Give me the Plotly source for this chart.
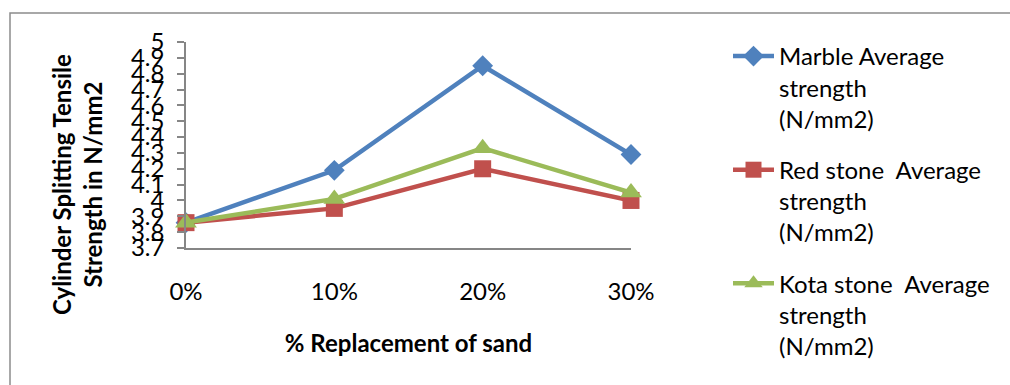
import plotly.graph_objects as go

# Splitting tensile strength vs. sand replacement level
replacement = ["0%", "10%", "20%", "30%"]
marble = [3.86, 4.19, 4.85, 4.29]
red_stone = [3.86, 3.95, 4.20, 4.00]
kota_stone = [3.86, 4.01, 4.33, 4.05]

series_names = [
    "Marble Average<br>strength<br>(N/mm2)",
    "Red stone  Average<br>strength<br>(N/mm2)",
    "Kota stone  Average<br>strength<br>(N/mm2)",
]
y_ticks = [3.7, 3.8, 3.9, 4.0, 4.1, 4.2, 4.3, 4.4, 4.5, 4.6, 4.7, 4.8, 4.9, 5.0]
y_tick_text = ["3.7", "3.8", "3.9", "4", "4.1", "4.2", "4.3", "4.4", "4.5",
               "4.6", "4.7", "4.8", "4.9", "5"]

FONT = "Lato, Carlito, Calibri, sans-serif"
W, H = 1010, 385
L, R, T, B = 186, 379, 42, 137
pw, ph = W - L - R, H - T - B


def px_x(p):
    return (p - L) / pw


def px_y(p):
    return (H - B - p) / ph


fig = go.Figure()
styles = [
    (marble, "#4F81BD", "diamond", 16),
    (red_stone, "#C0504D", "square", 17),
    (kota_stone, "#9BBB59", "triangle-up", 19),
]
for i, ((vals, color, sym, size), name) in enumerate(zip(styles, series_names)):
    fig.add_trace(go.Scatter(
        x=replacement, y=vals, name=name, mode="lines+markers",
        legendgroup=f"s{i}",
        line=dict(color=color, width=4.5),
        marker=dict(symbol=sym, size=size, color=color),
        cliponaxis=False,
    ))

fig.update_layout(
    width=W, height=H,
    margin=dict(l=L, r=R, t=T, b=B, pad=0),
    paper_bgcolor="white", plot_bgcolor="white",
    font=dict(family=FONT, color="black", size=24),
    showlegend=True,
    legend=dict(
        x=px_x(728), xanchor="left", y=px_y(34), yanchor="top",
        font=dict(family=FONT, size=24, color="black"),
        tracegroupgap=17, itemwidth=41, valign="top",
        maxheight=1.0,
        bgcolor="rgba(0,0,0,0)",
    ),
    xaxis=dict(
        type="category", range=[0, 3], showgrid=False, zeroline=False,
        showline=True, linecolor="#868686", linewidth=1.5,
        ticks="", tickfont=dict(size=24), ticklabelstandoff=21,
        title=dict(text="<b>% Replacement of sand</b>", font=dict(size=24), standoff=32),
    ),
    yaxis=dict(
        range=[3.7, 5.0], tickvals=y_ticks, ticktext=y_tick_text,
        showgrid=False, zeroline=False,
        showline=True, linecolor="#868686", linewidth=1.5,
        ticks="outside", ticklen=7, tickcolor="#868686", tickwidth=1.5,
        tickfont=dict(size=24), ticklabelstandoff=8,
    ),
    annotations=[dict(
        text="<b>Cylinder Splitting Tensile<br>Strength in N/mm2</b>",
        xref="paper", yref="paper", x=px_x(77), y=px_y(185),
        xanchor="center", yanchor="middle", textangle=-90, showarrow=False,
        font=dict(family=FONT, size=24, color="black"),
    )],
    shapes=[dict(
        type="rect", xref="paper", yref="paper",
        x0=px_x(10), x1=px_x(1020), y0=px_y(395), y1=px_y(13),
        line=dict(color="#8C8C8C", width=1.5), fillcolor="rgba(0,0,0,0)",
        layer="below",
    )],
)

fig.write_html("out.html")
